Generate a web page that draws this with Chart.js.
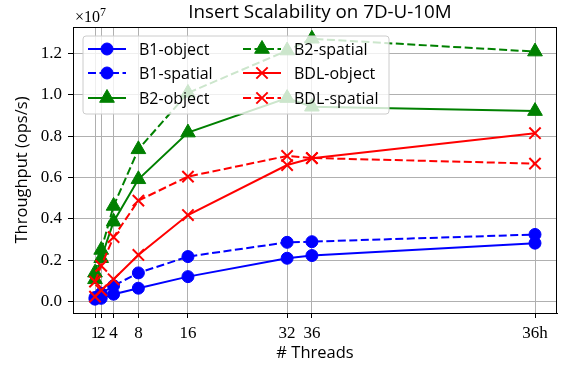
<!DOCTYPE html>
<html>
<head>
<meta charset="utf-8">
<script src="https://cdn.jsdelivr.net/npm/chart.js@4.4.0/dist/chart.umd.min.js"></script>
<style>
  html, body { margin: 0; padding: 0; background: #fff; }
  #wrap { width: 567px; height: 366px; }
</style>
</head>
<body>
<div id="wrap"><canvas id="chart"></canvas></div>
<script>
// ---- data (throughput in units of 1e7 ops/s) ----
const threads = [1, 2, 4, 8, 16, 32, 36, 72];
const threadLabels = ["1", "2", "4", "8", "16", "32", "36", "36h"];
const yTicks = [0.0, 0.2, 0.4, 0.6, 0.8, 1.0, 1.2];

const b1Object = [0.012, 0.016, 0.036, 0.065, 0.121, 0.210, 0.223, 0.283];
const b1Spatial = [0.020, 0.040, 0.077, 0.139, 0.218, 0.287, 0.290, 0.325];
const b2Object = [0.108, 0.210, 0.387, 0.592, 0.818, 0.985, 0.943, 0.922];
const b2Spatial = [0.140, 0.250, 0.463, 0.737, 1.010, 1.215, 1.272, 1.210];
const bdlObject = [0.024, 0.055, 0.108, 0.226, 0.419, 0.661, 0.694, 0.815];
const bdlSpatial = [0.097, 0.173, 0.312, 0.489, 0.605, 0.705, 0.695, 0.668];

const SANS = "'Open Sans', 'DejaVu Sans', sans-serif";
const SERIF = "'Liberation Serif', 'DejaVu Serif', serif";
const DASH = [8, 3.5];

function series(label, values, color, style, dashed) {
  const radius = style === "circle" ? 6 : style === "triangle" ? 8.5 : 8;
  return {
    label,
    data: values.map((v, i) => ({ x: threads[i], y: v })),
    borderColor: color,
    backgroundColor: color,
    borderWidth: 2,
    borderDash: dashed ? DASH : [],
    pointStyle: style,
    pointRadius: radius,
    pointHoverRadius: radius,
    pointBorderWidth: style === "crossRot" ? 2 : 1,
    pointBackgroundColor: color,
    pointBorderColor: color,
    tension: 0,
    fill: false,
  };
}

const datasets = [
  series("B1-object", b1Object, "#0000ff", "circle", false),
  series("B1-spatial", b1Spatial, "#0000ff", "circle", true),
  series("B2-object", b2Object, "#008000", "triangle", false),
  series("B2-spatial", b2Spatial, "#008000", "triangle", true),
  series("BDL-object", bdlObject, "#ff0000", "crossRot", false),
  series("BDL-spatial", bdlSpatial, "#ff0000", "crossRot", true),
];
// later series on top, like matplotlib
datasets.forEach((d, i) => { d.order = datasets.length - i; });

// ---- frame, title, offset text, legend ----
const decorations = {
  id: "decorations",
  afterDatasetsDraw(chart) {
    const { ctx, chartArea: a } = chart;
    ctx.save();
    ctx.strokeStyle = "#000";
    ctx.lineWidth = 1;
    ctx.strokeRect(a.left + 0.5, a.top + 0.5, a.right - a.left - 1, a.bottom - a.top);
    ctx.restore();
  },
  afterDraw(chart) {
    const { ctx, chartArea: a } = chart;
    ctx.save();

    // title
    ctx.fillStyle = "#000";
    ctx.font = "18.8px " + SANS;
    ctx.textAlign = "center";
    ctx.textBaseline = "alphabetic";
    ctx.fillText("Insert Scalability on 7D-U-10M", (a.left + a.right) / 2 + 5, 18);

    // x10^7
    ctx.textAlign = "left";
    ctx.font = "16px " + SERIF;
    ctx.fillText("\u00d710", a.left + 2, 22);
    const w = ctx.measureText("\u00d710").width;
    ctx.font = "12px " + SERIF;
    ctx.fillText("7", a.left + 2 + w, 16);

    // legend
    const bx = a.left + 10, by = a.top + 9, bw = 306, bh = 78;
    ctx.beginPath();
    ctx.roundRect(bx, by, bw, bh, 3);
    ctx.fillStyle = "rgba(255,255,255,0.8)";
    ctx.fill();
    ctx.strokeStyle = "#cccccc";
    ctx.lineWidth = 1;
    ctx.stroke();

    const cols = [bx + 5, bx + 160];
    const rows = [by + 13, by + 37, by + 62];
    chart.data.datasets.forEach((d, i) => {
      const x0 = cols[Math.floor(i / 3)];
      const y0 = rows[i % 3];
      ctx.save();
      ctx.strokeStyle = d.borderColor;
      ctx.lineWidth = d.borderWidth;
      ctx.setLineDash(d.borderDash);
      ctx.beginPath();
      ctx.moveTo(x0, y0);
      ctx.lineTo(x0 + 38, y0);
      ctx.stroke();
      ctx.restore();
      ctx.save();
      ctx.fillStyle = d.pointBackgroundColor;
      ctx.strokeStyle = d.pointBorderColor;
      ctx.lineWidth = d.pointBorderWidth;
      Chart.helpers.drawPoint(ctx, {
        pointStyle: d.pointStyle, radius: d.pointRadius, rotation: 0, borderWidth: d.pointBorderWidth,
      }, x0 + 19, y0);
      ctx.restore();
      ctx.fillStyle = "#000";
      ctx.font = "16px " + SANS;
      ctx.textBaseline = "middle";
      ctx.fillText(d.label, x0 + 51, y0 + 1);
    });
    ctx.restore();
  },
};

new Chart(document.getElementById("chart"), {
  type: "line",
  data: { datasets },
  options: {
    responsive: true,
    maintainAspectRatio: false,
    animation: false,
    layout: { padding: { left: 0, right: 9, top: 27, bottom: 0 } },
    plugins: {
      legend: { display: false },
      title: { display: false },
      tooltip: { enabled: false },
    },
    scales: {
      x: {
        type: "linear",
        min: -2.55,
        max: 75.55,
        afterBuildTicks: (s) => { s.ticks = threads.map((v) => ({ value: v })); },
        afterFit: (s) => { s.height = 53; },
        ticks: {
          autoSkip: false,
          maxRotation: 0,
          padding: 5,
          color: "#000",
          font: { family: SERIF, size: 17 },
          callback: (v) => threadLabels[threads.indexOf(v)],
        },
        grid: { color: "#b0b0b0", lineWidth: 1, tickLength: 5, tickColor: "#000" },
        border: { display: true, color: "#000", width: 1 },
        title: {
          display: true,
          text: "# Threads",
          color: "#000",
          font: { family: SANS, size: 16.5 },
          padding: { top: 0, bottom: 3 },
        },
      },
      y: {
        min: -0.055,
        max: 1.329,
        afterBuildTicks: (s) => { s.ticks = yTicks.map((v) => ({ value: v })); },
        afterFit: (s) => { s.width = 73; },
        ticks: {
          padding: 6,
          color: "#000",
          font: { family: SERIF, size: 17 },
          callback: (v) => v.toFixed(1),
        },
        grid: { color: "#b0b0b0", lineWidth: 1, tickLength: 5, tickColor: "#000" },
        border: { display: true, color: "#000", width: 1 },
        title: {
          display: true,
          text: "Throughput (ops/s)",
          color: "#000",
          font: { family: SANS, size: 16.5 },
          padding: { top: 12, bottom: 0 },
        },
      },
    },
  },
  plugins: [decorations],
});
</script>
</body>
</html>
